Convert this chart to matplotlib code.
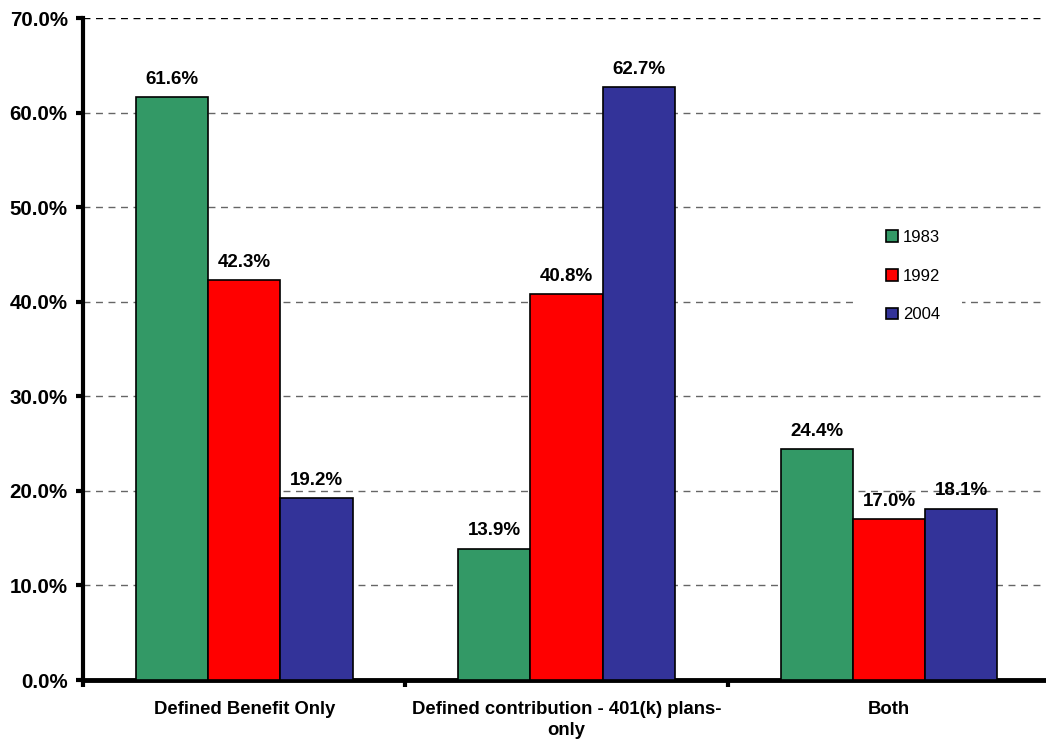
import numpy as np
import matplotlib.pyplot as plt
from matplotlib.patches import Rectangle

# --data--
categories = ["Defined Benefit Only", "Defined contribution - 401(k) plans-\nonly", "Both"]
years = ["1983", "1992", "2004"]
v1983 = [61.6, 13.9, 24.4]
v1992 = [42.3, 40.8, 17.0]
v2004 = [19.2, 62.7, 18.1]
colors = ["#339966", "#FF0000", "#333399"]

plt.rcParams['font.family'] = ['Liberation Sans', 'DejaVu Sans']

fig = plt.figure(figsize=(10.46, 7.43), dpi=100)
ax = fig.add_axes([83 / 1046, 1 - 680 / 743, 1 - 83 / 1046 + 0.004, (680 - 18) / 743])

x = np.arange(len(categories))
w = 0.224
series = [v1983, v1992, v2004]
for i, (vals, c, yr) in enumerate(zip(series, colors, years)):
    bars = ax.bar(x + (i - 1) * w, vals, w, color=c, edgecolor='black', linewidth=1.2,
                  label=yr, zorder=3)
    for b, v in zip(bars, vals):
        ax.text(b.get_x() + b.get_width() / 2, v + 1.0, f"{v:.1f}%", ha='center', va='bottom',
                fontsize=13.5, fontweight='bold', zorder=4)

# gridlines
for g in range(10, 71, 10):
    col = 'black' if g == 70 else '#666666'
    ax.axhline(g, color=col, linestyle=(0, (5, 4)), linewidth=1, zorder=1)

ax.set_xlim(-0.5, 2.5)
ax.set_ylim(0, 70)
ax.set_yticks(range(0, 71, 10))
ax.set_yticklabels([f"{t:.1f}%" for t in range(0, 71, 10)], fontsize=14.8, fontweight='bold')
ax.set_xticks([-0.5, 0.5, 1.5, 2.5])
ax.set_xticklabels([])
ax.set_xticks(x, minor=True)
ax.set_xticklabels(categories, minor=True, fontsize=13.3, fontweight='bold', linespacing=1.3)
ax.tick_params(axis='x', which='minor', length=0, pad=15)
ax.tick_params(axis='both', which='major', length=5, width=3, direction='out')
ax.tick_params(axis='y', pad=6)

for s in ['top', 'right']:
    ax.spines[s].set_visible(False)
ax.spines['left'].set_linewidth(3)
ax.spines['bottom'].set_linewidth(3.5)

# white box behind the legend (hides the gridline as in the original)
ax.add_patch(Rectangle((858, 743 - 332), 104, 110, transform=None,
                       facecolor='white', edgecolor='none', zorder=2))

leg = ax.legend(loc='upper left', bbox_to_anchor=(886 / 1046, 1 - 230 / 743),
                bbox_transform=fig.transFigure, frameon=False, fontsize=12,
                handlelength=0.7, handleheight=0.7, handletextpad=0.3, labelspacing=1.42,
                borderpad=0, borderaxespad=0)
leg.set_zorder(5)

fig.savefig("out.png", dpi=100)
